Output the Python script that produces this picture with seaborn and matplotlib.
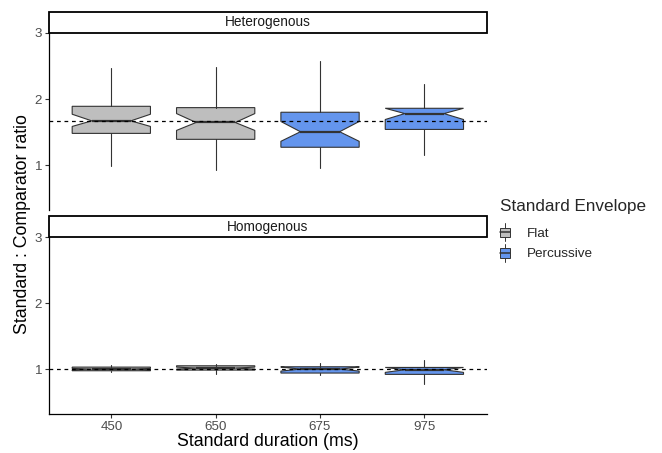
import matplotlib
matplotlib.use("Agg")
import matplotlib.pyplot as plt
import seaborn as sns
from matplotlib.patches import Rectangle
from matplotlib.legend_handler import HandlerBase
from matplotlib.lines import Line2D

# categories / groups
durations = ["450", "650", "675", "975"]
envelopes = ["Flat", "Flat", "Percussive", "Percussive"]
panels = ["Heterogenous", "Homogenous"]
env_colors = {"Flat": "#BEBEBE", "Percussive": "#6495ED"}

# box statistics (per panel, per duration)
het_med = [1.67, 1.645, 1.505, 1.78]
het_q1 = [1.48, 1.39, 1.27, 1.54]
het_q3 = [1.89, 1.87, 1.80, 1.86]
het_lo = [0.98, 0.92, 0.95, 1.15]
het_hi = [2.47, 2.48, 2.57, 2.23]
het_cilo = [1.585, 1.525, 1.36, 1.69]
het_cihi = [1.77, 1.78, 1.66, 1.86]

hom_med = [1.00, 1.015, 1.00, 0.99]
hom_q1 = [0.975, 0.985, 0.94, 0.92]
hom_q3 = [1.03, 1.05, 1.035, 1.025]
hom_lo = [0.955, 0.925, 0.915, 0.78]
hom_hi = [1.065, 1.075, 1.09, 1.14]
hom_cilo = [0.99, 1.00, 0.97, 0.95]
hom_cihi = [1.01, 1.03, 1.03, 1.025]

ref_lines = [1.67, 1.0]

sns.set_theme(style="ticks")
plt.rcParams["font.family"] = ["Liberation Sans", "DejaVu Sans"]

W, H = 662, 453
fig = plt.figure(figsize=(W / 100, H / 100), dpi=100)

left, right = 48.7, 487
ax_top = fig.add_axes([left / W, 1 - 210 / H, (right - left) / W, 177 / H])
ax_bot = fig.add_axes([left / W, 1 - 414 / H, (right - left) / W, 177 / H])

edge = "#333333"


def make_stats(med, q1, q3, lo, hi, cilo, cihi):
    out = []
    for i in range(len(med)):
        out.append(dict(med=med[i], q1=q1[i], q3=q3[i], whislo=lo[i], whishi=hi[i],
                        cilo=cilo[i], cihi=cihi[i], fliers=[]))
    return out


stats = [
    make_stats(het_med, het_q1, het_q3, het_lo, het_hi, het_cilo, het_cihi),
    make_stats(hom_med, hom_q1, hom_q3, hom_lo, hom_hi, hom_cilo, hom_cihi),
]

for ax, st, name, ref in zip([ax_top, ax_bot], stats, panels, ref_lines):
    bp = ax.bxp(st, positions=range(len(durations)), widths=0.75, patch_artist=True,
                shownotches=True, showcaps=False, showfliers=False,
                boxprops=dict(edgecolor=edge, linewidth=0.8),
                medianprops=dict(color=edge, linewidth=1.6),
                whiskerprops=dict(color=edge, linewidth=0.8))
    for patch, env in zip(bp["boxes"], envelopes):
        patch.set_facecolor(env_colors[env])
    ax.axhline(ref, color="black", linestyle=(0, (3, 3)), linewidth=0.9, zorder=5)
    ax.set_xlim(-0.6, 3.6)
    ax.set_ylim(0.32, 3.0)
    ax.set_yticks([1, 2, 3])
    ax.tick_params(axis="both", colors="#333333", labelcolor="#4D4D4D",
                   labelsize=9.6, length=2.8, width=0.8, pad=2, direction="out")
    sns.despine(ax=ax)
    for s in ["left", "bottom"]:
        ax.spines[s].set_color("black")
        ax.spines[s].set_linewidth(0.9)
    # facet strip
    strip_h = 21 / 177
    ax.add_patch(Rectangle((0, 1), 1, strip_h, transform=ax.transAxes, facecolor="white",
                           edgecolor="black", linewidth=1.3, clip_on=False, zorder=10))
    ax.text(0.5, 1 + strip_h / 2, name, transform=ax.transAxes, ha="center", va="center",
            fontsize=9.8, color="#1A1A1A", zorder=11)

ax_top.set_xticks(range(len(durations)))
ax_top.set_xticklabels([])
ax_top.tick_params(axis="x", length=0)
ax_top.spines["bottom"].set_visible(False)
ax_bot.set_xticks(range(len(durations)))
ax_bot.set_xticklabels(durations)

fig.text((left + right) / 2 / W, 1 - 442 / H, "Standard duration (ms)", ha="center",
         va="center", fontsize=12.8, color="black")
fig.text(23 / W, 1 - 224 / H, "Standard : Comparator ratio", ha="center", va="center",
         rotation=90, fontsize=12.8, color="black")


class BoxHandler(HandlerBase):
    def create_artists(self, legend, orig_handle, xdescent, ydescent, width, height,
                       fontsize, trans):
        fc = orig_handle.get_facecolor()
        cx = width / 2 - xdescent
        cy = height / 2 - ydescent
        bw, bh = 7.5, 7.0
        box = Rectangle((cx - bw / 2, cy - bh / 2), bw, bh, facecolor=fc,
                        edgecolor=edge, linewidth=0.7, transform=trans)
        med = Line2D([cx - bw / 2, cx + bw / 2], [cy, cy], color=edge, lw=1.1, transform=trans)
        w1 = Line2D([cx, cx], [cy + bh / 2, cy + 6.5], color=edge, lw=0.7, transform=trans)
        w2 = Line2D([cx, cx], [cy - bh / 2, cy - 6.5], color=edge, lw=0.7, transform=trans)
        return [box, med, w1, w2]


handles = [Rectangle((0, 0), 1, 1, facecolor=env_colors[e]) for e in ["Flat", "Percussive"]]
leg = fig.legend(handles, ["Flat", "Percussive"], title="Standard Envelope",
                 loc="upper left", bbox_to_anchor=(500 / W, 1 - 199 / H),
                 frameon=False, fontsize=9.7, title_fontsize=12.3,
                 handler_map={Rectangle: BoxHandler()}, handlelength=0.75,
                 handleheight=1.3, handletextpad=1.25, labelspacing=0.4,
                 borderpad=0, borderaxespad=0)
leg._legend_box.align = "left"
leg._legend_box.sep = 8

fig.savefig("out.png", dpi=100)
